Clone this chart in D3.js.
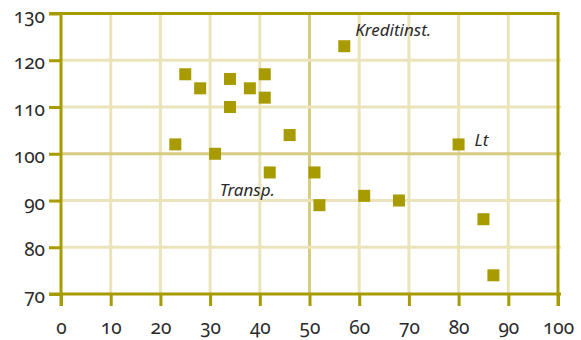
<!DOCTYPE html>
<html>
<head>
<meta charset="utf-8">
<script src="https://cdn.jsdelivr.net/npm/d3@7"></script>
<style>
  html, body { margin: 0; padding: 0; background: #fff; }
  svg text { font-family: "Noto Sans", "Open Sans", sans-serif; fill: #2b2b2b; }
  .tick-label { font-size: 19px; font-variant-numeric: oldstyle-nums; font-feature-settings: "onum" 1; }
  .annot { font-size: 17px; font-style: italic; }
</style>
</head>
<body>
<svg id="chart" width="581" height="340"></svg>
<script>
// Scatter values: x and y for each sector
const xValues = [25, 28, 34, 34, 38, 41, 41, 46, 23, 31, 57, 80, 42, 51, 52, 61, 68, 85, 87];
const yValues = [117, 114, 116, 110, 114, 117, 112, 104, 102, 100, 123, 102, 96, 96, 89, 91, 90, 86, 74];

// Tick labels
const xTicks = [0, 10, 20, 30, 40, 50, 60, 70, 80, 90, 100];
const yTicks = [70, 80, 90, 100, 110, 120, 130];

// Annotated points
const labelNames = ["Kreditinst.", "Lt", "Transp."];
const labelX = [57, 80, 42];
const labelY = [123, 102, 96];

const axisColor = "#a89b00";
const gridColor = "#ebe4bb";
const midColor = "#d6cc82";

const svg = d3.select("#chart");
const x = d3.scaleLinear().domain([0, 100]).range([61, 558]);
const y = d3.scaleLinear().domain([70, 130]).range([294, 13.5]);

const tickLen = 12;

// Grid lines
const grid = svg.append("g");
grid.selectAll("line.v").data(xTicks.filter(d => d > 0 && d < 100)).join("line")
  .attr("x1", d => x(d)).attr("x2", d => x(d))
  .attr("y1", y(130)).attr("y2", y(70))
  .attr("stroke", d => d === 50 ? midColor : gridColor)
  .attr("stroke-width", 3);
grid.selectAll("line.h").data(yTicks.filter(d => d > 70 && d < 130)).join("line")
  .attr("x1", x(0)).attr("x2", x(100) + 3)
  .attr("y1", d => y(d)).attr("y2", d => y(d))
  .attr("stroke", d => d === 100 ? midColor : gridColor)
  .attr("stroke-width", 3);

// Axes with outward ticks
const xAxis = svg.append("g")
  .attr("transform", `translate(0,${y(70)})`)
  .call(d3.axisBottom(x).tickValues(xTicks).tickSize(tickLen).tickPadding(11));
const yAxis = svg.append("g")
  .attr("transform", `translate(${x(0)},0)`)
  .call(d3.axisLeft(y).tickValues(yTicks).tickSize(tickLen).tickPadding(4));

[xAxis, yAxis].forEach(a => {
  a.select(".domain").remove();
  a.selectAll(".tick line").attr("stroke", axisColor).attr("stroke-width", 3);
  a.selectAll(".tick text").attr("class", "tick-label").attr("font-size", null).attr("font-family", null);
});
xAxis.selectAll(".tick text").attr("dy", "0.9em");
yAxis.selectAll(".tick text").attr("dy", "0.45em");

// Frame
const frame = svg.append("g").attr("stroke", axisColor).attr("stroke-width", 3);
frame.append("line").attr("x1", x(0)).attr("x2", x(0)).attr("y1", y(130) - 1.5).attr("y2", y(70) + tickLen);
frame.append("line").attr("x1", x(0) - tickLen).attr("x2", x(100) + 3).attr("y1", y(70)).attr("y2", y(70));
frame.append("line").attr("x1", x(0) - tickLen).attr("x2", x(100) + 1.5).attr("y1", y(130)).attr("y2", y(130));
frame.append("line").attr("x1", x(100)).attr("x2", x(100)).attr("y1", y(130)).attr("y2", y(70) + tickLen);

// Points
const size = 12;
svg.append("g").selectAll("rect").data(xValues.map((d, i) => [d, yValues[i]])).join("rect")
  .attr("x", d => x(d[0]) - size / 2)
  .attr("y", d => y(d[1]) - size / 2)
  .attr("width", size).attr("height", size)
  .attr("fill", "#a89b00");

// Annotations
const offsets = [[11, -10], [16, 2], [-50, 24]];
svg.append("g").selectAll("text").data(labelNames).join("text")
  .attr("class", "annot")
  .attr("x", (d, i) => x(labelX[i]) + offsets[i][0])
  .attr("y", (d, i) => y(labelY[i]) + offsets[i][1])
  .text(d => d);
</script>
</body>
</html>
